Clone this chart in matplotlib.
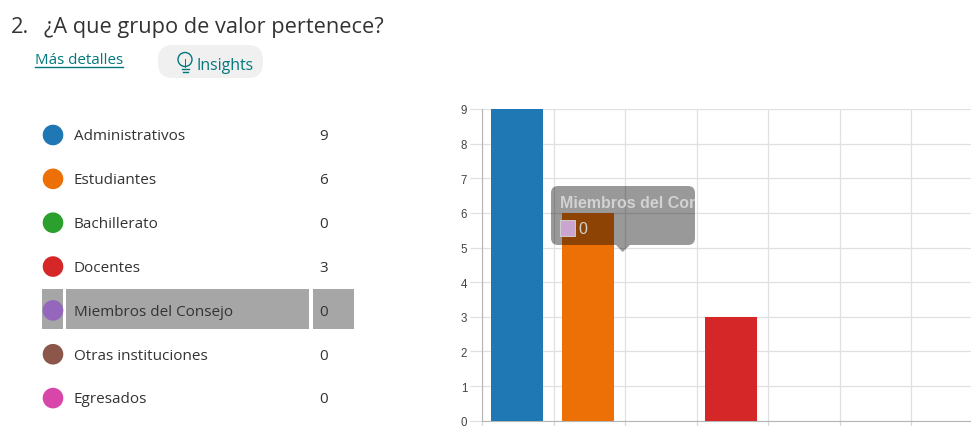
import numpy as np
import matplotlib
matplotlib.use("Agg")
import matplotlib.pyplot as plt
from matplotlib.patches import Circle, FancyBboxPatch, Polygon, Rectangle

categories = ['Administrativos', 'Estudiantes', 'Bachillerato', 'Docentes',
              'Miembros del Consejo', 'Otras instituciones', 'Egresados']
values = [9, 6, 0, 3, 0, 0, 0]
colors = ['#1f77b4', '#ec7006', '#2ca02c', '#d62728', '#9467bd', '#8c564b', '#d846aa']
y_ticks = [0, 1, 2, 3, 4, 5, 6, 7, 8, 9]
question_no = '2.'
question = '¿A que grupo de valor pertenece?'
hover = 4  # row that the tooltip belongs to

W, H = 971, 427
UI = 'Open Sans'
TEAL = '#03787c'
fig = plt.figure(figsize=(W / 100, H / 100), dpi=100)

# chart, placed in pixels
left, right, top, bottom = 482, 971, 110, 421.7
ax = fig.add_axes([left / W, 1 - bottom / H, (right - left) / W, (bottom - top) / H])
step = 71.5
ax.bar(np.arange(len(values)) - 0.015, values, width=0.725, color=colors, zorder=3)
ax.set_xticks(np.arange(len(values)) - 0.5)
ax.set_xticklabels([])
ax.set_yticks(y_ticks)
# set_xticks widens the view, so the limits go after it
ax.set_xlim(-0.5, -0.5 + (right - left) / step)
ax.set_ylim(0, 9)
ax.grid(True, color='#e0e0e0', lw=0.9, zorder=0)
ax.tick_params(axis='x', length=3.6, color='#d8d8d8', width=0.9, pad=0)
ax.tick_params(axis='y', length=8.6, color='#e0e0e0', width=0.9, pad=2, labelsize=8.3, labelcolor='#444444')
for lab in ax.get_yticklabels():
    lab.set_family('Liberation Sans')
for s in ['top', 'right']:
    ax.spines[s].set_visible(False)
ax.spines['left'].set_color('#b5b5b5')
ax.spines['bottom'].set_color('#b5b5b5')

# overlay in pixel coords for the form bits around the chart
ov = fig.add_axes([0, 0, 1, 1], facecolor='none')
ov.set_xlim(0, W)
ov.set_ylim(H, 0)
ov.axis('off')

ov.text(11, 33, question_no, fontsize=15.7, family=UI, color='#333333', va='baseline')
ov.text(44, 33, question, fontsize=15.7, family=UI, color='#333333', va='baseline')
ov.text(35, 63.5, 'Más detalles', fontsize=10.9, family=UI, color=TEAL, va='baseline')
ov.plot([35, 123], [67.5, 67.5], color=TEAL, lw=1)
ov.add_patch(FancyBboxPatch((158, 46), 105, 33, boxstyle='round,pad=0,rounding_size=15',
                            fc='#f0f0f0', ec='none'))
# bulb icon
ov.add_patch(Circle((185, 60.5), 7, fc='none', ec=TEAL, lw=1))
ov.plot([181.5, 188.5], [70, 70], color=TEAL, lw=1)
ov.plot([182.5, 187.5], [73, 73], color=TEAL, lw=1)
ov.plot([185, 185], [60, 68], color=TEAL, lw=0.7)
ov.text(197, 69.5, 'Insights', fontsize=11.4, family=UI, color=TEAL, va='baseline')

row_y = 136
row_h = 43.85
for i, (name, val, col) in enumerate(zip(categories, values, colors)):
    y = row_y + i * row_h
    if i == hover:
        for x0, x1 in [(42, 63), (66, 309), (313, 354)]:
            ov.add_patch(Rectangle((x0, y - 21.7), x1 - x0, 40, fc='#a6a6a6', ec='none'))
    ov.add_patch(Circle((53, y), 10.3, fc=col, ec='none', zorder=3))
    ov.text(73.5, y + 4.3, name, fontsize=11, family=UI, color='#333333', va='baseline', zorder=3)
    ov.text(319.5, y + 4.3, str(val), fontsize=11, family=UI, color='#333333', va='baseline', zorder=3)

# tooltip
tip = FancyBboxPatch((551, 187), 144, 59, boxstyle='round,pad=0,rounding_size=7',
                     fc='black', ec='none', alpha=0.4, zorder=5)
ov.add_patch(tip)
ov.add_patch(Polygon([[616, 246], [630, 246], [622.7, 253]], fc='black', ec='none', alpha=0.4, zorder=5))
t = ov.text(559.5, 208, categories[hover], fontsize=11.5, family='Liberation Sans', weight='bold',
            color='#d2d2d2', va='baseline', zorder=6)
t.set_clip_path(Rectangle((551, 187), 144, 59, transform=ov.transData))
t.set_clip_on(True)
ov.add_patch(Rectangle((559.5, 221), 15.5, 16, fc='#c9a5d0', ec='#d8d8d8', lw=0.6, zorder=6))
ov.text(578.5, 234.5, str(values[hover]), fontsize=11.4, family='Liberation Sans', color='#d2d2d2',
        va='baseline', zorder=6)

fig.savefig('out.png', dpi=100)
